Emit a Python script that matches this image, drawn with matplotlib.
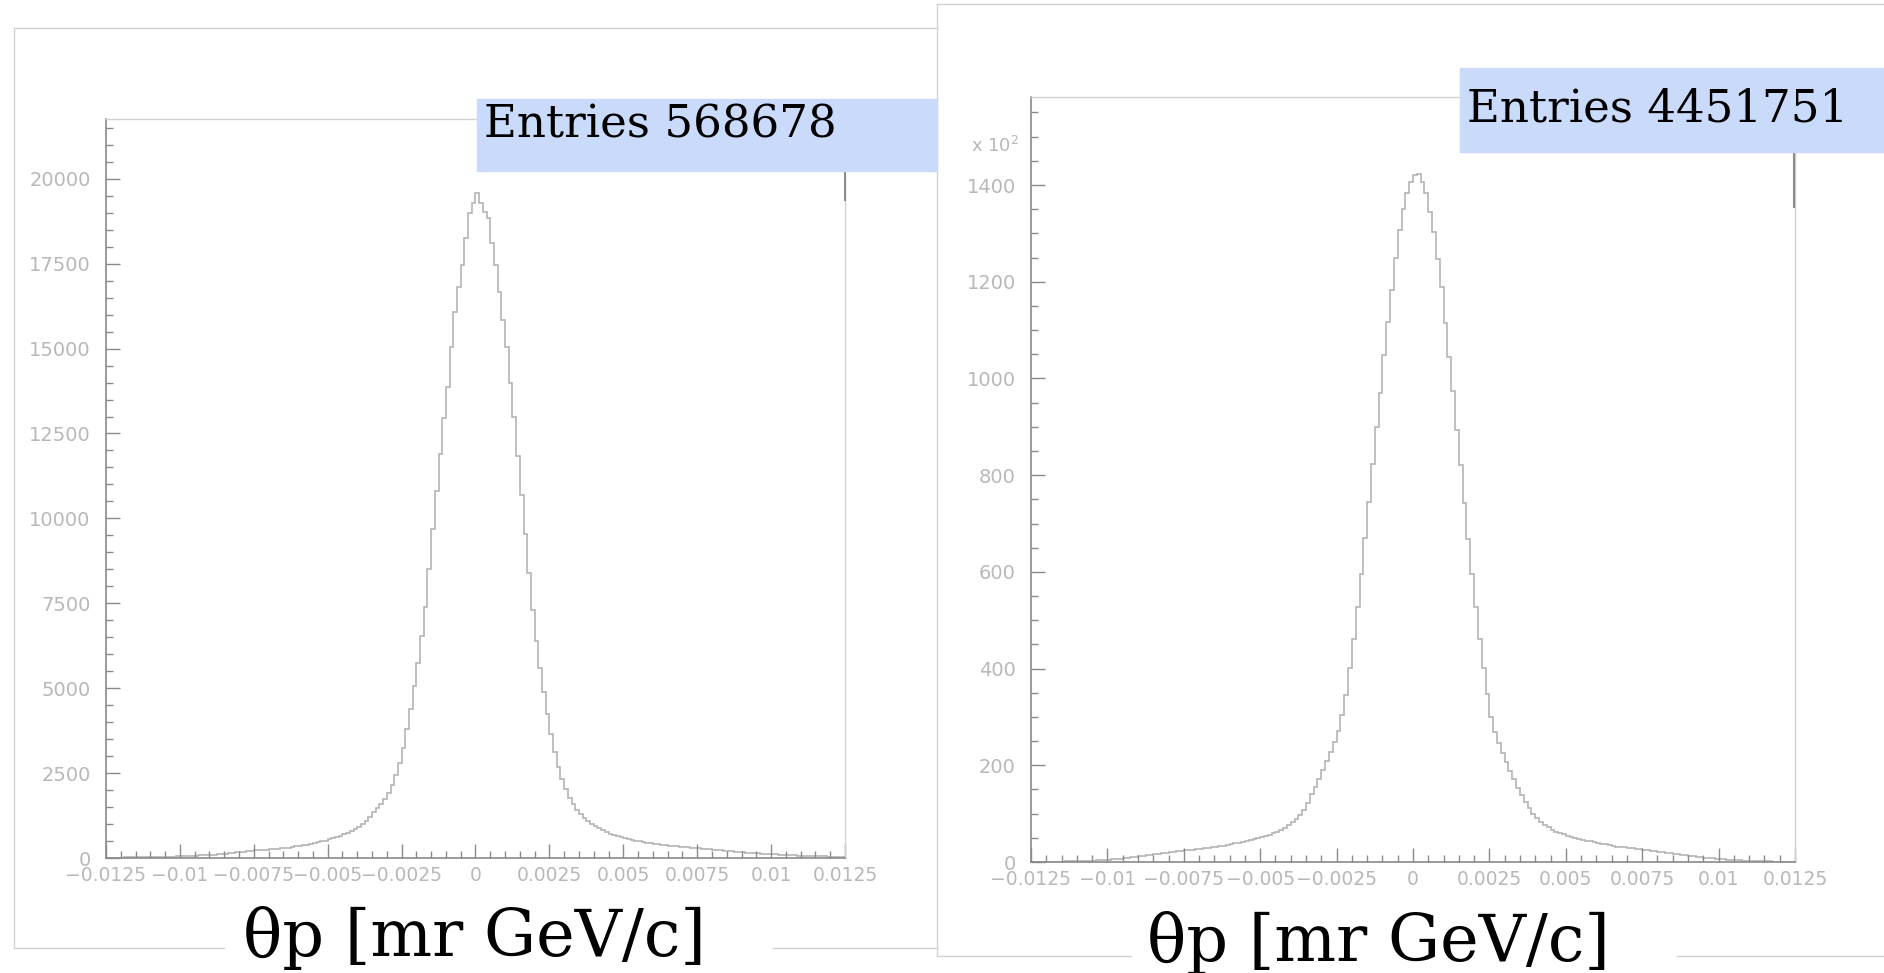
import numpy as np
import matplotlib
matplotlib.use("Agg")
from matplotlib import pyplot as plt
from matplotlib.lines import Line2D
from matplotlib.patches import Rectangle

# histogram range, 200 bins each
x_lo, x_hi = -0.0125, 0.0125

# left histogram, counts per bin
left_counts = [
    9, 10, 11, 12, 13, 15, 16, 18, 19, 21,
    23, 25, 27, 29, 31, 34, 37, 40, 43, 47,
    51, 55, 59, 64, 69, 74, 79, 85, 92, 99,
    108, 120, 131, 143, 155, 166, 178, 190, 202, 213,
    224, 231, 239, 247, 255, 264, 273, 283, 294, 307,
    323, 340, 358, 377, 397, 418, 440, 463, 488, 515,
    545, 575, 620, 660, 700, 745, 800, 860, 920, 990,
    1100, 1220, 1340, 1460, 1590, 1730, 1900, 2150, 2450, 2800,
    3250, 3800, 4400, 5050, 5750, 6550, 7400, 8500, 9700, 10800,
    11900, 12950, 13880, 15060, 16090, 16820, 17460, 18250, 18990, 19280,
    19590, 19280, 19030, 18840, 18100, 17460, 16680, 15840, 15060, 13980,
    13000, 11850, 10700, 9550, 8400, 7300, 6400, 5600, 4900, 4250,
    3650, 3120, 2680, 2320, 2020, 1780, 1580, 1420, 1290, 1180,
    1080, 1000, 930, 870, 815, 765, 720, 680, 645, 612,
    582, 555, 530, 507, 486, 467, 450, 435, 420, 405,
    391, 378, 366, 354, 343, 332, 321, 311, 301, 291,
    281, 271, 261, 251, 241, 231, 221, 211, 202, 193,
    184, 175, 167, 159, 151, 144, 137, 130, 123, 116,
    110, 104, 98, 92, 87, 82, 77, 72, 68, 64,
    60, 56, 52, 49, 46, 43, 40, 37, 34, 31,
]

# right histogram, counts per bin in units of 10^2
right_counts = [
    0.35, 0.4, 0.45, 0.5, 0.6, 0.7, 0.8, 0.9, 1.0, 1.1,
    1.3, 1.5, 1.7, 2.0, 2.3, 2.6, 3.0, 3.4, 3.9, 4.4,
    5.0, 5.6, 6.3, 7.0, 8.0, 9.0, 10, 11, 12, 13,
    14, 15, 16, 17, 18, 19, 20, 21, 22, 23,
    24, 24.5, 25, 26, 27, 28, 29, 30, 31, 32.5,
    34, 35.5, 37, 38.5, 40, 42, 44, 46, 48, 50,
    52, 54, 56, 59, 62, 66, 71, 76, 82, 89,
    97, 108, 122, 140, 155, 172, 190, 208, 228, 248,
    270, 305, 345, 401, 462, 527, 596, 669, 745, 823,
    899, 969, 1048, 1117, 1183, 1250, 1307, 1350, 1384, 1406,
    1420, 1422, 1407, 1383, 1345, 1303, 1248, 1190, 1114, 1045,
    973, 893, 820, 742, 667, 595, 527, 462, 402, 347,
    300, 268, 246, 226, 207, 189, 171, 154, 139, 125,
    111, 99, 90, 83, 77, 72, 67, 63, 60, 57,
    54, 52, 50, 48, 46, 44, 42.5, 41, 39.5, 38,
    36.5, 35, 33.5, 32, 31, 30, 29, 28, 27, 26,
    25, 24, 23, 22, 21, 20, 19, 18, 17, 16,
    15, 14, 13, 12, 11, 10, 9, 8.2, 7.4, 6.6,
    5.9, 5.2, 4.6, 4.1, 3.6, 3.2, 2.8, 2.5, 2.2, 1.9,
    1.7, 1.5, 1.3, 1.1, 1.0, 0.9, 0.8, 0.7, 0.6, 0.5,
]

x_ticks = [-0.0125, -0.01, -0.0075, -0.005, -0.0025, 0,
           0.0025, 0.005, 0.0075, 0.01, 0.0125]
x_labels = ["\u22120.0125", "\u22120.01", "\u22120.0075", "\u22120.005", "\u22120.0025", "0",
            "0.0025", "0.005", "0.0075", "0.01", "0.0125"]
left_yticks = [0, 2500, 5000, 7500, 10000, 12500, 15000, 17500, 20000]
right_yticks = [0, 200, 400, 600, 800, 1000, 1200, 1400]

entries_left = "Entries 568678"
entries_right = "Entries 4451751"
xtitle = "\u03b8p [mr GeV/c]"

W, H = 1884, 973
def fx(x):
    return x / W
def fy(y):
    return 1 - y / H

fig = plt.figure(figsize=(W / 100, H / 100), dpi=100)
fig.patch.set_facecolor("white")

hist_col = "#b4b4b4"
axis_col = "#8a8a8a"
lab_col = "#b8b8b8"
frame_col = "#d2d2d2"
serif = "DejaVu Serif"

def style_axes(ax, yticks, ymax, yminor):
    edges = np.linspace(x_lo, x_hi, 201)
    ax.set_xlim(x_lo, x_hi)
    ax.set_ylim(0, ymax)
    ax.set_xticks(x_ticks, x_labels)
    ax.set_xticks(np.arange(x_lo, x_hi + 1e-9, 0.0005), minor=True)
    ax.set_yticks(yticks, [str(v) for v in yticks])
    ax.set_yticks(np.arange(0, ymax, yminor), minor=True)
    ax.tick_params(which="both", direction="in", color=axis_col, width=1,
                   labelcolor=lab_col)
    ax.tick_params(which="major", length=10)
    ax.tick_params(which="minor", length=5)
    ax.tick_params(axis="x", labelsize=13.5, pad=6)
    ax.tick_params(axis="y", labelsize=14, pad=11)
    for s in ("left", "bottom"):
        ax.spines[s].set_color(axis_col)
        ax.spines[s].set_linewidth(1.2)
    for s in ("top", "right"):
        ax.spines[s].set_color(frame_col)
        ax.spines[s].set_linewidth(1)
    return edges

# left pad
axL = fig.add_axes([fx(106), fy(858), (845 - 106) / W, (858 - 119) / H])
eL = style_axes(axL, left_yticks, 21760, 500)
axL.stairs(left_counts, eL, color=hist_col, lw=1.2)

# right pad
axR = fig.add_axes([fx(1031), fy(862), (1795 - 1031) / W, (862 - 97) / H])
eR = style_axes(axR, right_yticks, 1582, 50)
axR.stairs(right_counts, eR, color=hist_col, lw=1.2)
fig.text(fx(971), fy(152), "x 10$^{2}$", color=lab_col, fontsize=13)

# pad frames
def seg(x0, y0, x1, y1, col=frame_col, lw=1.0):
    fig.add_artist(Line2D([fx(x0), fx(x1)], [fy(y0), fy(y1)], color=col, lw=lw,
                          transform=fig.transFigure, zorder=4))

seg(14, 28, 937, 28)
seg(14, 28, 14, 948)
seg(14, 948, 224, 948)
seg(773, 948, 937, 948)
seg(937, 4, 937, 956)
seg(937, 4, W, 4)
seg(937, 956, 1131, 956)
seg(1677, 956, W, 956)

# stats boxes
box_col = "#c9dafa"
fig.add_artist(Rectangle((fx(477), fy(171)), (937 - 477) / W, (171 - 99) / H,
                         transform=fig.transFigure, color=box_col, zorder=5))
fig.add_artist(Rectangle((fx(1460), fy(152)), (W - 1460) / W, (152 - 68) / H,
                         transform=fig.transFigure, color=box_col, zorder=5))
seg(845, 171, 845, 200, col="#8c8c8c", lw=1.5)
seg(1794, 153, 1794, 207, col="#8c8c8c", lw=1.5)

fig.text(fx(484), fy(138), entries_left, family=serif, fontsize=32.5,
         va="baseline", color="black", zorder=6)
fig.text(fx(1467), fy(122), entries_right, family=serif, fontsize=32.5,
         va="baseline", color="black", zorder=6)

# axis titles
fig.text(fx(474), fy(956), xtitle, family=serif, fontsize=47,
         ha="center", va="baseline", color="black", zorder=6)
fig.text(fx(1378), fy(961), xtitle, family=serif, fontsize=47,
         ha="center", va="baseline", color="black", zorder=6)

fig.savefig("out.png", dpi=100)
